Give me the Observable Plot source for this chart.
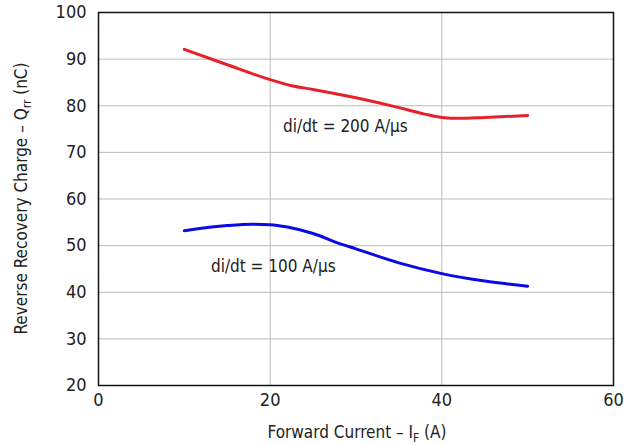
<!DOCTYPE html>
<html><head><meta charset="utf-8">
<script src="https://cdn.jsdelivr.net/npm/d3@7"></script>
<script src="https://cdn.jsdelivr.net/npm/@observablehq/plot@0.6"></script>
<style>body{margin:0;background:#fff;}</style>
</head><body><div id="chart"></div>
<script>
const current200 = [10, 15, 20, 22.5, 25, 30, 35, 38, 40, 42, 45, 50];
const charge200  = [92.1, 88.8, 85.6, 84.3, 83.5, 81.7, 79.6, 78.2, 77.5, 77.3, 77.5, 77.9];
const current100 = [10, 15, 18, 20, 22, 25, 28, 30, 35, 40, 45, 50];
const charge100  = [53.2, 54.3, 54.6, 54.5, 54.0, 52.6, 50.5, 49.3, 46.3, 44.0, 42.4, 41.3];
const xTicks = [0, 20, 40, 60];
const yTicks = [20, 30, 40, 50, 60, 70, 80, 90, 100];
const labels = ["di/dt = 200 A/µs", "di/dt = 100 A/µs"];
const labelX = [21.5, 13.1];
const labelY = [75.6, 45.6];

const d200 = current200.map((x, i) => ({x, y: charge200[i]}));
const d100 = current100.map((x, i) => ({x, y: charge100[i]}));
const lab = labels.map((t, i) => ({t, x: labelX[i], y: labelY[i]}));

const font = "'Liberation Sans Narrow', 'DejaVu Sans Condensed', 'Roboto', sans-serif";
const chart = Plot.plot({
  width: 643, height: 444,
  marginLeft: 98, marginRight: 30, marginTop: 12, marginBottom: 59,
  style: {fontFamily: font, fontSize: "18px", background: "white", color: "#222"},
  x: {domain: [0, 60]},
  y: {domain: [20, 100]},
  marks: [
    Plot.gridX(xTicks.slice(1, -1), {stroke: "#bbb", strokeOpacity: 1, strokeWidth: 1}),
    Plot.gridY(yTicks.slice(1, -1), {stroke: "#bbb", strokeOpacity: 1, strokeWidth: 1}),
    Plot.axisX(xTicks, {tickSize: 0, tickPadding: 8, label: null, fontSize: 18}),
    Plot.axisY(yTicks, {tickSize: 0, tickPadding: 12, label: null, fontSize: 18}),
    Plot.line(d200, {x: "x", y: "y", stroke: "#e8202a", strokeWidth: 3, curve: "monotone-x"}),
    Plot.line(d100, {x: "x", y: "y", stroke: "#0a0ae6", strokeWidth: 3, curve: "monotone-x"}),
    Plot.text(lab, {x: "x", y: "y", text: "t", textAnchor: "start", fontSize: 17, fill: "#222"}),
    Plot.frame({stroke: "#111", strokeWidth: 1.5})
  ]
});
document.getElementById("chart").appendChild(chart);

const svg = d3.select(chart);
const yl = svg.append("text")
  .attr("transform", "translate(27,198.5) rotate(-90)")
  .attr("text-anchor", "middle")
  .attr("font-family", font).attr("font-size", 17).attr("fill", "#222");
yl.append("tspan").text("Reverse Recovery Charge – Q");
yl.append("tspan").attr("font-size", 12).attr("dy", 4).text("rr");
yl.append("tspan").attr("dy", -4).text(" (nC)");

const xl = svg.append("text")
  .attr("x", 357).attr("y", 438)
  .attr("text-anchor", "middle")
  .attr("font-family", font).attr("font-size", 17).attr("fill", "#222");
xl.append("tspan").text("Forward Current – I");
xl.append("tspan").attr("font-size", 12).attr("dy", 4).text("F");
xl.append("tspan").attr("dy", -4).text(" (A)");
</script>
</body></html>
